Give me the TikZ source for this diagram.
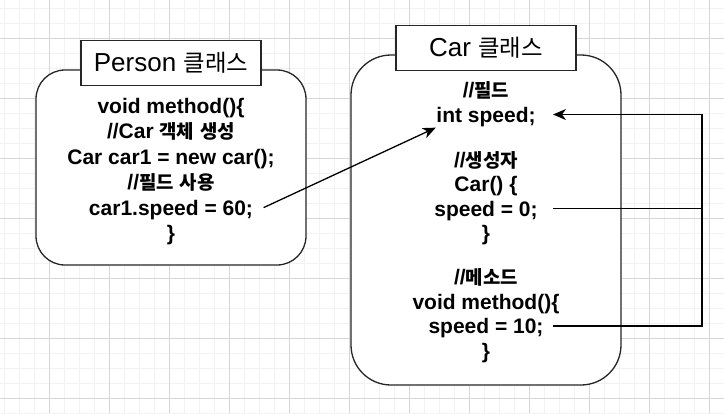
\documentclass[tikz,border=0pt]{standalone}
\usepackage{fontspec}
\setmainfont{Liberation Sans}
\newfontfamily\kr[Scale=0.9]{Noto Sans CJK KR}
\usetikzlibrary{arrows,arrows.meta,positioning}

\begin{document}
\begin{tikzpicture}[x=1pt,y=-1pt,>={Stealth[length=13pt,width=11pt,inset=4pt]},
                    line width=1.3pt,node distance=25.4pt]
  \tikzstyle{code}=[inner sep=0pt,text height=15pt,text depth=0pt,
                    font=\fontsize{21}{25}\selectfont\bfseries]
  \tikzstyle{classbox}=[draw=black!85,fill=white,minimum width=270pt]
  \tikzstyle{title}=[draw=black!85,fill=white,minimum width=180pt,
                     minimum height=45pt,inner sep=0pt,
                     font=\fontsize{26}{30}\selectfont]

  % paper grid
  \useasboundingbox (0,0) rectangle (724,413);
  \fill[white] (0,0) rectangle (724,413);
  \foreach \x in {4,19,...,724} \draw[line width=1pt,black!5] (\x,0) -- (\x,413);
  \foreach \y in {8,23,...,413} \draw[line width=1pt,black!5] (0,\y) -- (724,\y);
  \foreach \x in {49,109,...,709} \draw[line width=1pt,black!16] (\x,0) -- (\x,413);
  \foreach \y in {38,98,...,398} \draw[line width=1pt,black!16] (0,\y) -- (724,\y);

  % class boxes
  \node[classbox,minimum height=195pt,rounded corners=29pt] (person) at (171,167.5) {};
  \node[classbox,minimum height=330pt,rounded corners=40pt] (car) at (486,220) {};
  \node[title] (ptitle) at (171,63) {Person {\kr 클래스}};
  \node[title] (ctitle) at (486,48) {Car {\kr 클래스}};

  % Person
  \node[code] (p1) at (171,106) {void method()\{};
  \node[code] (p2) [below of=p1] {//Car {\kr 객체} {\kr 생성}};
  \node[code] (p3) [below of=p2] {Car car1 = new car();};
  \node[code] (p4) [below of=p3] {//{\kr 필드} {\kr 사용}};
  \node[code] (p5) [below of=p4] {car1.speed = 60;};
  \node[code] (p6) [below of=p5] {\}};

  % Car
  \begin{scope}[node distance=24.5pt]
  \node[code] (c1) at (486,90) {//{\kr 필드}};
  \node[code] (cspeed) [below of=c1] {int speed;};
  \node[code] (c3) [below of=cspeed,node distance=45pt] {//{\kr 생성자}};
  \node[code] (c4) [below of=c3] {Car() \{};
  \node[code] (c0) [below of=c4] {speed = 0;};
  \node[code] (c6) [below of=c0] {\}};
  \node[code] (c7) [below of=c6,node distance=44pt] {//{\kr 메소드}};
  \node[code] (c8) [below of=c7] {void method()\{};
  \node[code] (c10) [below of=c8] {speed = 10;};
  \node[code] (c11) [below of=c10] {\}};
  \end{scope}

  \coordinate (edge) at (553,0);
  \coordinate (rail) at (702,0);

  \draw[->] ([xshift=10pt]p5.east) -- ([yshift=-5pt]cspeed.south west);
  \draw[->] (c10 -| edge) -- (c10 -| rail) -- (cspeed -| rail) -- (cspeed -| edge);
  \draw (c0 -| edge) -- (c0 -| rail);
\end{tikzpicture}
\end{document}
